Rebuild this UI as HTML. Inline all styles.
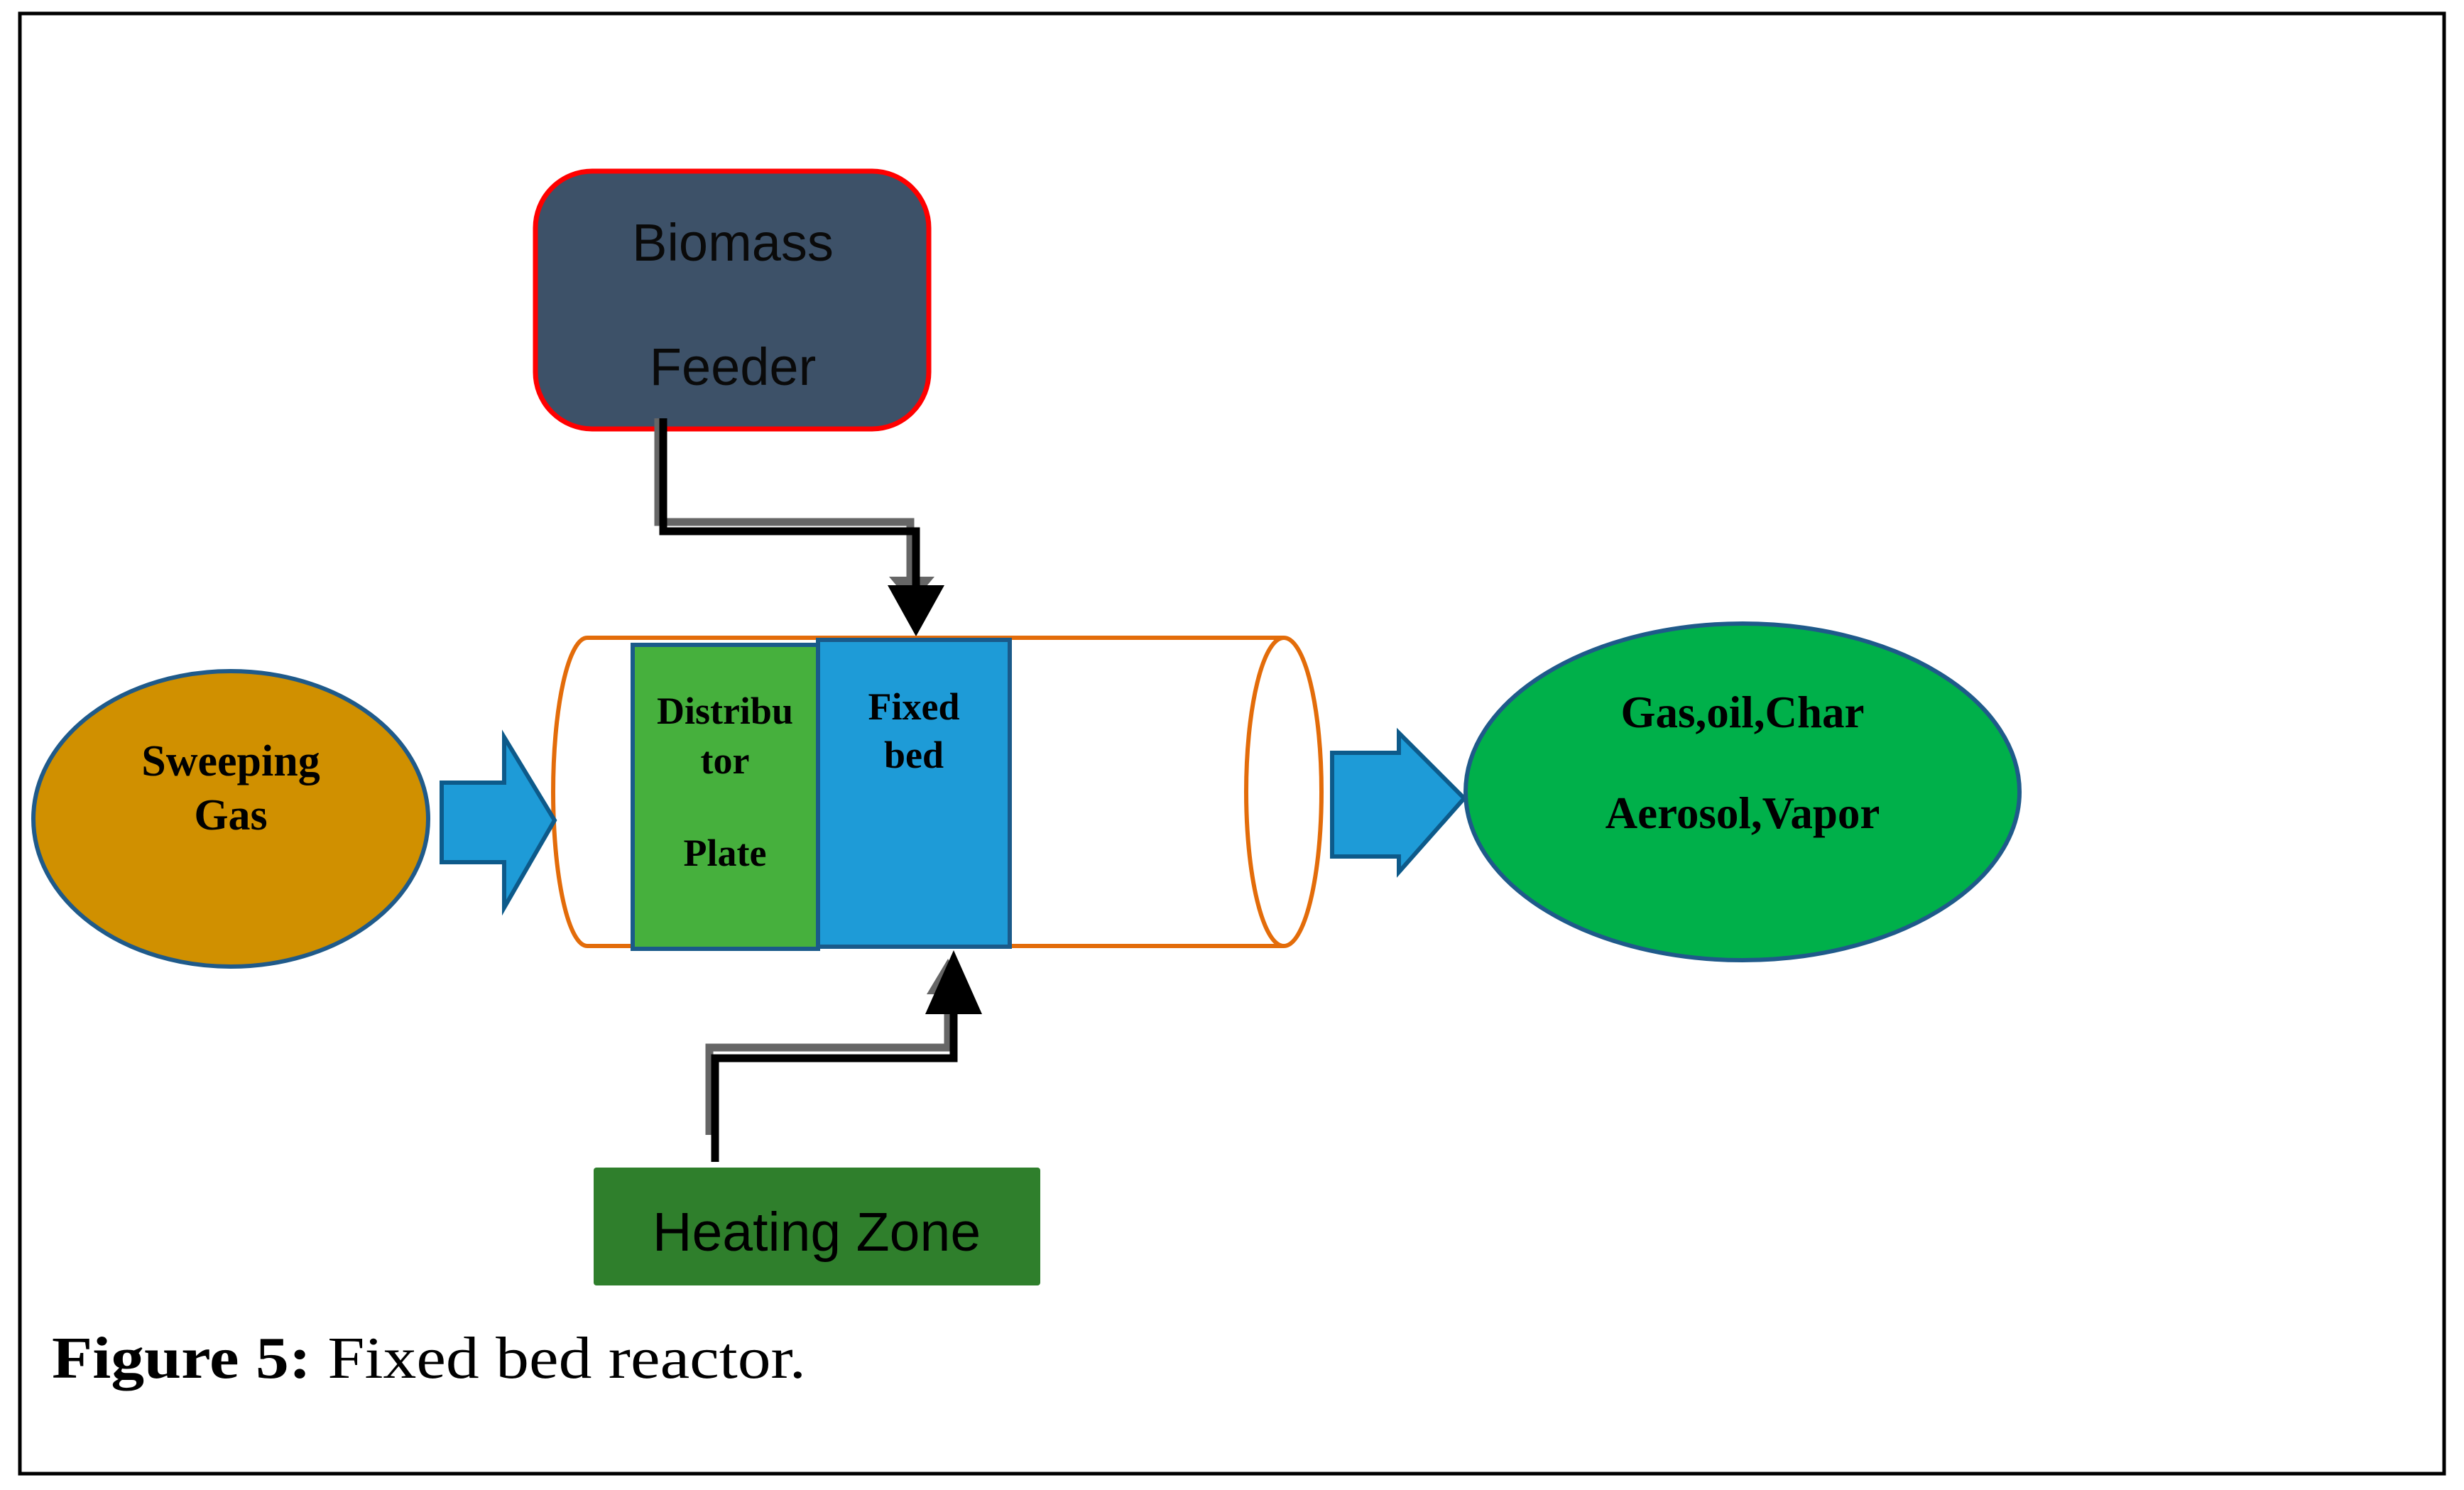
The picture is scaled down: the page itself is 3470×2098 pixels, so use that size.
<!DOCTYPE html>
<html><head><meta charset="utf-8"><style>
html,body{margin:0;padding:0;background:#fff;}
svg{display:block;}
</style></head><body>
<svg width="3470" height="2098" viewBox="0 0 3470 2098" xmlns="http://www.w3.org/2000/svg">
<rect x="0" y="0" width="3470" height="2098" fill="#fff"/>
<rect x="28" y="19" width="3414" height="2056" fill="none" stroke="#000" stroke-width="5"/>

<!-- Biomass feeder -->
<rect x="754" y="241" width="554" height="363" rx="80" fill="#3d5168" stroke="#ff0000" stroke-width="7"/>
<text x="1032" y="367" font-family="Liberation Sans, sans-serif" font-size="74" text-anchor="middle" fill="#0a0a0a">Biomass</text>
<text x="1032" y="542" font-family="Liberation Sans, sans-serif" font-size="74" text-anchor="middle" fill="#0a0a0a">Feeder</text>

<!-- feeder connector -->
<polyline points="927,589 927,735 1282,735 1282,820" fill="none" stroke="#666" stroke-width="11"/>
<polygon points="1252,812 1316,812 1284,850" fill="#666"/>
<polyline points="934,589 934,748 1290,748 1290,830" fill="none" stroke="#000" stroke-width="11"/>
<polygon points="1250,824 1330,824 1290,896" fill="#000"/>

<!-- cylinder -->
<path d="M827,898 L1808,898 M827,1332 L1808,1332" stroke="#e36c0a" stroke-width="6" fill="none"/>
<path d="M827,898 A48,217 0 0 0 827,1332" stroke="#e36c0a" stroke-width="6" fill="none"/>
<ellipse cx="1808" cy="1115" rx="53" ry="217" fill="none" stroke="#e36c0a" stroke-width="6"/>

<!-- distributor plate -->
<rect x="891" y="908" width="261" height="428" fill="#46b03d" stroke="#1a5a8a" stroke-width="6"/>
<text x="1021" y="1019" font-family="Liberation Serif, serif" font-weight="bold" font-size="54" text-anchor="middle">Distribu</text>
<text x="1021" y="1089" font-family="Liberation Serif, serif" font-weight="bold" font-size="54" text-anchor="middle">tor</text>
<text x="1021" y="1219" font-family="Liberation Serif, serif" font-weight="bold" font-size="54" text-anchor="middle">Plate</text>

<!-- fixed bed -->
<rect x="1152" y="901" width="270" height="432" fill="#1e9bd7" stroke="#1a5a8a" stroke-width="6"/>
<text x="1287" y="1013" font-family="Liberation Serif, serif" font-weight="bold" font-size="54" text-anchor="middle">Fixed</text>
<text x="1287" y="1081" font-family="Liberation Serif, serif" font-weight="bold" font-size="54" text-anchor="middle">bed</text>

<!-- sweeping gas -->
<ellipse cx="325" cy="1153" rx="278" ry="208" fill="#d09000" stroke="#1f5a8a" stroke-width="6"/>
<text x="325" y="1092" font-family="Liberation Serif, serif" font-weight="bold" font-size="62" text-anchor="middle">Sweeping</text>
<text x="325" y="1168" font-family="Liberation Serif, serif" font-weight="bold" font-size="62" text-anchor="middle">Gas</text>

<!-- left arrow -->
<polygon points="622,1102 710,1102 710,1038 781,1155 710,1278 710,1214 622,1214" fill="#1e9bd7" stroke="#0d5a8a" stroke-width="6"/>

<!-- right arrow -->
<polygon points="1876,1060 1970,1060 1970,1032 2062,1124 1970,1228 1970,1206 1876,1206" fill="#1e9bd7" stroke="#0d5a8a" stroke-width="6"/>

<!-- products -->
<ellipse cx="2454" cy="1115" rx="390" ry="237" fill="#00b04a" stroke="#1f5a8a" stroke-width="6"/>
<text x="2454" y="1024" font-family="Liberation Serif, serif" font-weight="bold" font-size="63" text-anchor="middle">Gas,oil,Char</text>
<text x="2454" y="1166" font-family="Liberation Serif, serif" font-weight="bold" font-size="63" text-anchor="middle">Aerosol,Vapor</text>

<!-- heating connector -->
<polyline points="999,1598 999,1475 1335,1475 1335,1390" fill="none" stroke="#666" stroke-width="11"/>
<polygon points="1305,1400 1365,1400 1335,1350" fill="#666"/>
<polyline points="1007,1636 1007,1490 1343,1490 1343,1415" fill="none" stroke="#000" stroke-width="11"/>
<polygon points="1303,1428 1383,1428 1343,1338" fill="#000"/>

<!-- heating zone -->
<rect x="836" y="1644" width="629" height="166" rx="4" fill="#2f7f2c"/>
<text x="1150" y="1761" font-family="Liberation Sans, sans-serif" font-size="77" text-anchor="middle" fill="#000">Heating Zone</text>

<!-- caption -->
<text x="73" y="1940" font-family="Liberation Serif, serif" font-size="84" fill="#000" textLength="1062" lengthAdjust="spacingAndGlyphs"><tspan font-weight="bold">Figure 5:</tspan> Fixed bed reactor.</text>
</svg>
</body></html>
